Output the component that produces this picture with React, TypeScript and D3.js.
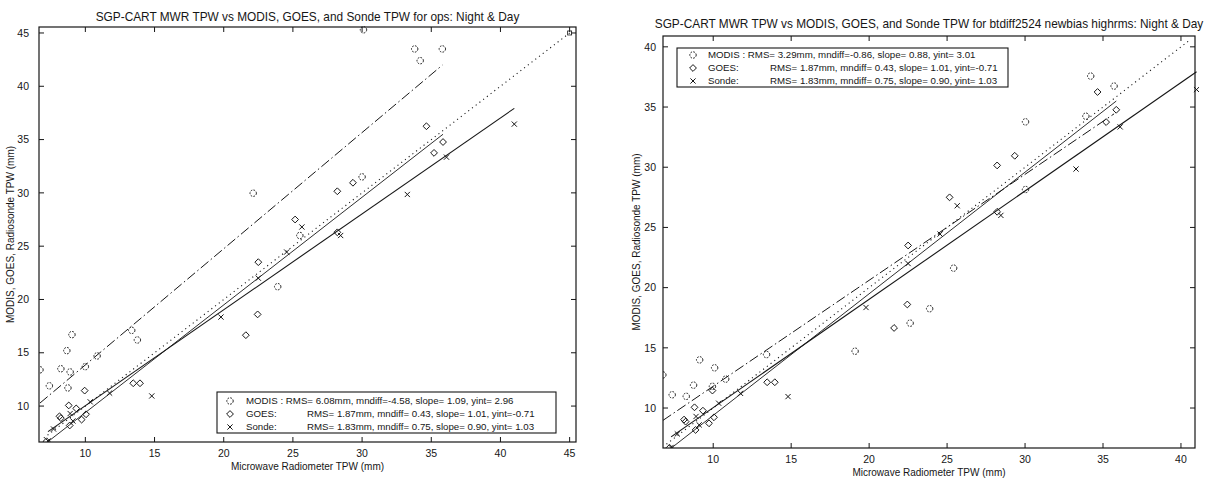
import React from "react";
import * as d3 from "d3";

// Microwave radiometer TPW (x, mm) against retrieved / radiosonde TPW (y, mm)
const goesPoints: [number, number][] = [
  [7.2, 6.7], [8.13, 9.04], [8.8, 10.06], [9.34, 9.78], [8.23, 8.87], [8.87, 8.18],
  [9.73, 8.73], [10.05, 9.23], [9.95, 11.45], [13.46, 12.14], [13.95, 12.14],
  [21.6, 16.65], [22.45, 18.6], [22.5, 23.5], [25.16, 27.5], [28.21, 26.3],
  [28.21, 30.15], [29.34, 30.95], [34.65, 36.25], [35.85, 34.77], [35.2, 33.75],
];

const sondePoints: [number, number][] = [
  [7.3, 6.73], [7.7, 7.85], [8.9, 9.3], [9.1, 8.6], [10.35, 10.4], [11.75, 11.22],
  [14.8, 10.95], [19.8, 18.35], [22.5, 22.0], [24.55, 24.45], [25.65, 26.8],
  [28.45, 26.0], [33.27, 29.85], [36.1, 33.35], [41.0, 36.45],
];

const modisOpsPoints: [number, number][] = [
  [6.72, 13.4], [7.4, 11.9], [8.23, 13.5], [8.66, 15.2], [8.74, 11.7], [8.9, 13.2],
  [9.03, 16.7], [10.0, 13.7], [10.85, 14.7], [13.35, 17.1], [13.76, 16.2],
  [22.13, 29.97], [23.9, 21.2], [25.5, 26.0], [30.0, 31.5], [30.1, 45.3],
  [33.8, 43.5], [34.2, 42.4], [35.8, 43.5],
];

const modisNewPoints: [number, number][] = [
  [6.77, 12.75], [7.37, 11.1], [8.27, 10.97], [8.74, 11.9], [9.13, 14.0], [9.95, 11.8],
  [10.09, 13.34], [10.8, 12.4], [13.42, 14.44], [19.1, 14.72], [22.63, 17.05],
  [23.88, 18.25], [25.42, 21.62], [30.03, 28.15], [30.03, 33.77], [33.9, 34.24],
  [34.21, 37.57], [35.71, 36.74],
];

// Fit statistics: RMS (mm), mean difference, slope, y-intercept
const modisOpsStats = [6.08, -4.58, 1.09, 2.96];
const modisNewStats = [3.29, -0.86, 0.88, 3.01];
const goesStats = [1.87, 0.43, 1.01, -0.71];
const sondeStats = [1.83, 0.75, 0.9, 1.03];

// Extent of the one-to-one reference line
const oneToOneOps = [7, 45];
const oneToOneNew = [7, 40.5];

// Axis limits and ticks
const opsXDomain = [6.65, 45.46];
const opsYDomain = [6.63, 45.56];
const newXDomain = [6.78, 40.9];
const newYDomain = [6.68, 40.9];
const opsTicks = [10, 15, 20, 25, 30, 35, 40, 45];
const newTicks = [10, 15, 20, 25, 30, 35, 40];

const opsTitle = "SGP-CART MWR TPW vs MODIS, GOES, and Sonde TPW for ops: Night & Day";
const newTitle =
  "SGP-CART MWR TPW vs MODIS, GOES, and Sonde TPW for btdiff2524 newbias highrms: Night & Day";
const xLabel = "Microwave Radiometer TPW (mm)";
const yLabel = "MODIS, GOES, Radiosonde TPW (mm)";

const FONT = "'Liberation Sans', Arial, Helvetica, sans-serif";
const INK = "#161616";

const fmt = (v: number) => v.toFixed(2);
const statText = (s: number[]) =>
  `RMS= ${fmt(s[0])}mm, mndiff=${s[1] < 0 ? "" : " "}${fmt(s[1])}, slope= ${fmt(s[2])}, yint=${
    s[3] < 0 ? "" : " "
  }${fmt(s[3])}`;

type Rect = { x0: number; x1: number; y0: number; y1: number };
type LegendLayout = {
  x0: number; x1: number; y0: number; y1: number;
  rows: number[]; markerX: number; nameX: number; statX: number;
};

function ModisMark({ x, y }: { x: number; y: number }) {
  return (
    <circle cx={x} cy={y} r={3.2} fill="none" stroke={INK} strokeWidth={1}
      strokeDasharray="1.7 1.3" />
  );
}
function GoesMark({ x, y }: { x: number; y: number }) {
  const s = 3.4;
  return (
    <path d={`M${x},${y - s}L${x + s},${y}L${x},${y + s}L${x - s},${y}Z`} fill="none"
      stroke={INK} strokeWidth={1} />
  );
}
function SondeMark({ x, y }: { x: number; y: number }) {
  const s = 2.6;
  return (
    <path d={`M${x - s},${y - s}L${x + s},${y + s}M${x - s},${y + s}L${x + s},${y - s}`}
      stroke={INK} strokeWidth={1} />
  );
}

function Panel(props: {
  rect: Rect; xDomain: number[]; yDomain: number[]; ticks: number[];
  title: string; titleY: number; modis: [number, number][]; modisStats: number[];
  oneToOne: number[]; legend: LegendLayout; yLabelX: number; yTickX: number;
  xTickY: number; xLabelY: number; cornerMark: boolean;
}) {
  const { rect, ticks, legend } = props;
  const x = d3.scaleLinear().domain(props.xDomain).range([rect.x0, rect.x1]);
  const y = d3.scaleLinear().domain(props.yDomain).range([rect.y1, rect.y0]);
  const line = d3.line<number[]>().x((d) => x(d[0])).y((d) => y(d[1]));
  const fitLine = (pts: [number, number][], s: number[]) => {
    const [a, b] = d3.extent(pts, (p) => p[0]) as [number, number];
    return line([[a, s[2] * a + s[3]], [b, s[2] * b + s[3]]]);
  };
  const cx = (rect.x0 + rect.x1) / 2;
  const cy = (rect.y0 + rect.y1) / 2;
  const tl = 5;
  const clipId = `clip-${rect.x0}`;
  const lf = 9.7;
  return (
    <g>
      <defs>
        <clipPath id={clipId}>
          <rect x={rect.x0} y={rect.y0 - 4} width={rect.x1 - rect.x0 + 4}
            height={rect.y1 - rect.y0 + 4} />
        </clipPath>
      </defs>
      <text x={cx} y={props.titleY} textAnchor="middle" fontSize={11.85} fill={INK}>
        {props.title}
      </text>
      <g clipPath={`url(#${clipId})`}>
        <path d={line([[props.oneToOne[0], props.oneToOne[0]], [props.oneToOne[1], props.oneToOne[1]]]) || ""}
          fill="none" stroke={INK} strokeWidth={1.1} strokeDasharray="1.1 3.6" />
        <path d={fitLine(props.modis, props.modisStats) || ""} fill="none" stroke={INK}
          strokeWidth={1} strokeDasharray="10 3 1.5 3" />
        <path d={fitLine(goesPoints, goesStats) || ""} fill="none" stroke={INK} strokeWidth={0.9} />
        <path d={fitLine(sondePoints, sondeStats) || ""} fill="none" stroke={INK} strokeWidth={1.1} />
        {props.modis.map((p, i) => <ModisMark key={`m${i}`} x={x(p[0])} y={y(p[1])} />)}
        {goesPoints.map((p, i) => <GoesMark key={`g${i}`} x={x(p[0])} y={y(p[1])} />)}
        {sondePoints.map((p, i) => <SondeMark key={`s${i}`} x={x(p[0])} y={y(p[1])} />)}
      </g>
      {props.cornerMark && (
        <rect x={x(props.oneToOne[1]) - 2} y={y(props.oneToOne[1]) - 2} width={4} height={4}
          fill="none" stroke={INK} strokeWidth={0.8} />
      )}
      <rect x={rect.x0} y={rect.y0} width={rect.x1 - rect.x0} height={rect.y1 - rect.y0}
        fill="none" stroke={INK} strokeWidth={1.2} />
      {ticks.map((t) => (
        <g key={`xt${t}`}>
          <line x1={x(t)} x2={x(t)} y1={rect.y1} y2={rect.y1 - tl} stroke={INK} />
          <line x1={x(t)} x2={x(t)} y1={rect.y0} y2={rect.y0 + tl} stroke={INK} />
          <text x={x(t)} y={props.xTickY} textAnchor="middle" fontSize={10.5} fill={INK}>{t}</text>
        </g>
      ))}
      {ticks.filter((t) => t <= props.yDomain[1]).map((t) => (
        <g key={`yt${t}`}>
          <line x1={rect.x0} x2={rect.x0 + tl} y1={y(t)} y2={y(t)} stroke={INK} />
          <line x1={rect.x1} x2={rect.x1 - tl} y1={y(t)} y2={y(t)} stroke={INK} />
          <text x={props.yTickX} y={y(t) + 3.7} textAnchor="end" fontSize={10.5} fill={INK}>{t}</text>
        </g>
      ))}
      <text x={cx} y={props.xLabelY} textAnchor="middle" fontSize={10} fill={INK}>{xLabel}</text>
      <text transform={`translate(${props.yLabelX},${cy}) rotate(-90)`} textAnchor="middle"
        fontSize={10} fill={INK}>{yLabel}</text>
      <rect x={legend.x0} y={legend.y0} width={legend.x1 - legend.x0}
        height={legend.y1 - legend.y0} fill="#fff" stroke={INK} strokeWidth={1.1} />
      <ModisMark x={legend.markerX} y={legend.rows[0]} />
      <GoesMark x={legend.markerX} y={legend.rows[1]} />
      <SondeMark x={legend.markerX} y={legend.rows[2]} />
      <text x={legend.nameX} y={legend.rows[0] + 3.4} fontSize={lf} fill={INK}>
        {`MODIS : ${statText(props.modisStats)}`}
      </text>
      <text x={legend.nameX} y={legend.rows[1] + 3.4} fontSize={lf} fill={INK}>GOES:</text>
      <text x={legend.statX} y={legend.rows[1] + 3.4} fontSize={lf} fill={INK}>{statText(goesStats)}</text>
      <text x={legend.nameX} y={legend.rows[2] + 3.4} fontSize={lf} fill={INK}>Sonde:</text>
      <text x={legend.statX} y={legend.rows[2] + 3.4} fontSize={lf} fill={INK}>{statText(sondeStats)}</text>
    </g>
  );
}

export default function App() {
  return (
    <svg width={1213} height={479} viewBox="0 0 1213 479"
      style={{ position: "absolute", left: 0, top: 0, fontFamily: FONT, background: "#fff" }}>
      <rect width={1213} height={479} fill="#fff" />
      <Panel
        rect={{ x0: 39, x1: 576, y0: 27, y1: 442 }}
        xDomain={opsXDomain} yDomain={opsYDomain} ticks={opsTicks}
        title={opsTitle} titleY={21} modis={modisOpsPoints} modisStats={modisOpsStats}
        oneToOne={oneToOneOps}
        legend={{ x0: 217, x1: 556, y0: 392, y1: 433, rows: [401, 414, 427], markerX: 230, nameX: 246, statX: 307 }}
        yLabelX={14} yTickX={29} xTickY={457} xLabelY={470} cornerMark={true}
      />
      <Panel
        rect={{ x0: 663, x1: 1195, y0: 36, y1: 448 }}
        xDomain={newXDomain} yDomain={newYDomain} ticks={newTicks}
        title={newTitle} titleY={28} modis={modisNewPoints} modisStats={modisNewStats}
        oneToOne={oneToOneNew}
        legend={{ x0: 677, x1: 1008, y0: 48, y1: 87, rows: [55, 68, 81], markerX: 693, nameX: 708, statX: 770 }}
        yLabelX={640} yTickX={656} xTickY={463} xLabelY={476} cornerMark={false}
      />
    </svg>
  );
}
